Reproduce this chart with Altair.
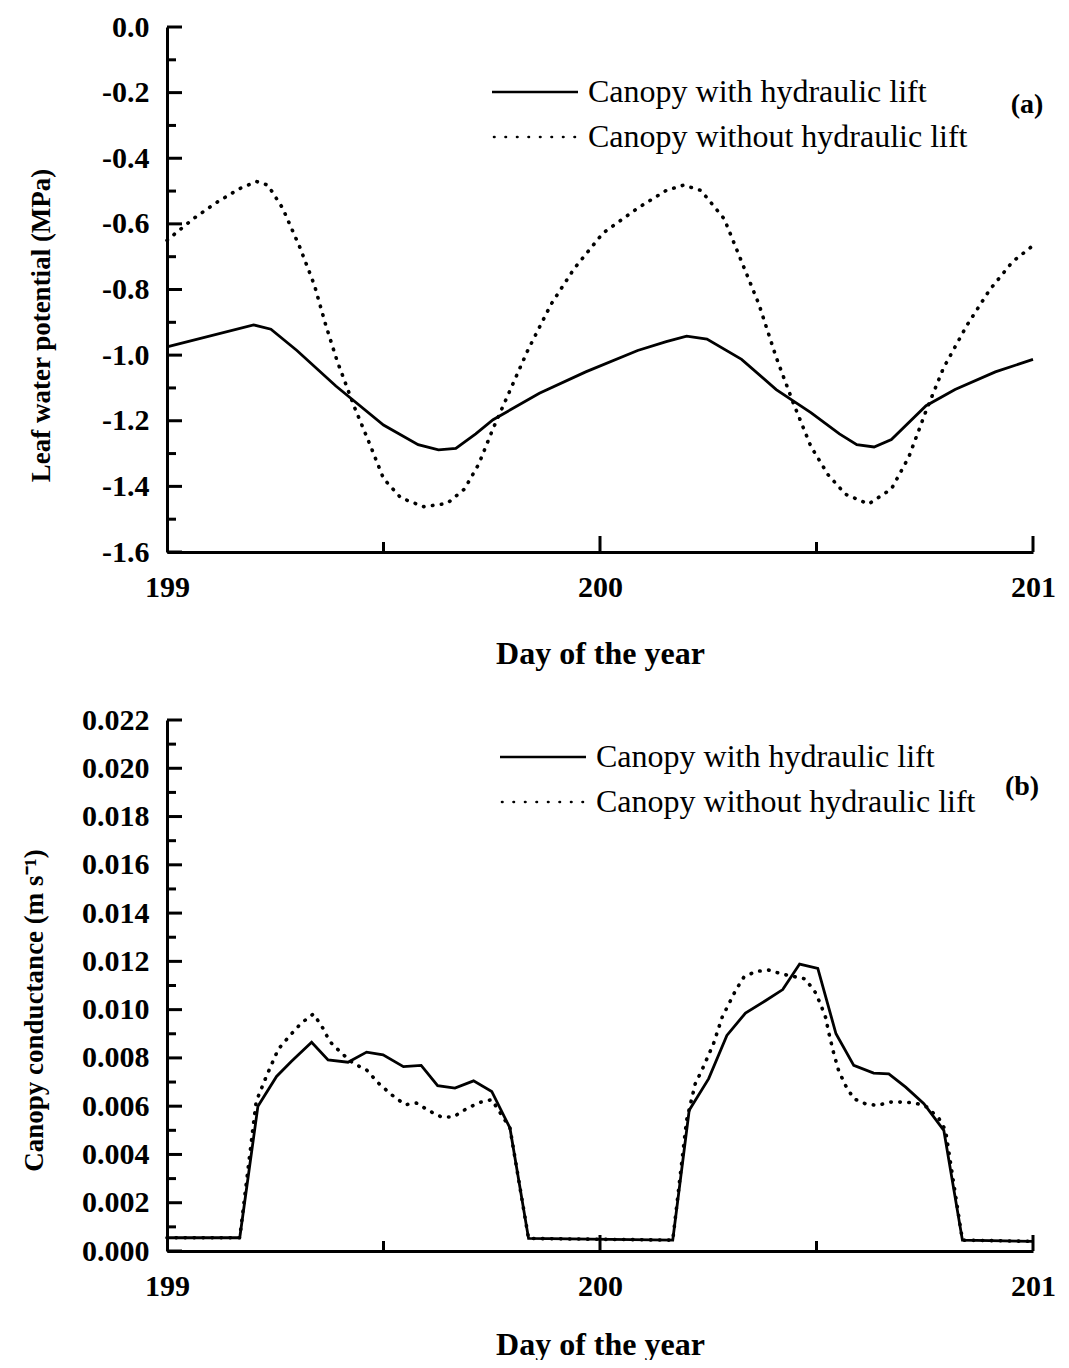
import altair as alt
import pandas as pd

FONT = "Liberation Serif"

series_names = ["Canopy with hydraulic lift", "Canopy without hydraulic lift"]

# ---- Panel (a): leaf water potential (MPa) ----
days_a_with = [199.0, 199.2, 199.24, 199.3, 199.39, 199.5, 199.58, 199.627, 199.667, 199.713,
               199.753, 199.86, 199.967, 200.087, 200.153, 200.2, 200.247, 200.327, 200.407,
               200.487, 200.553, 200.593, 200.633, 200.673, 200.753, 200.82, 200.913, 201.0]
lwp_with = [-0.975, -0.908, -0.921, -0.986, -1.094, -1.213, -1.273, -1.289, -1.284, -1.240,
            -1.197, -1.116, -1.051, -0.986, -0.959, -0.942, -0.951, -1.013, -1.105,
            -1.175, -1.240, -1.273, -1.280, -1.257, -1.154, -1.105, -1.051, -1.013]

days_a_without = [199.0, 199.06, 199.113, 199.167, 199.207, 199.233, 199.267, 199.307, 199.34,
                  199.367, 199.393, 199.433, 199.467, 199.5, 199.54, 199.593, 199.647, 199.687,
                  199.72, 199.753, 199.793, 199.833, 199.887, 199.94, 200.007, 200.087, 200.153,
                  200.193, 200.233, 200.287, 200.327, 200.367, 200.407, 200.447, 200.487, 200.527,
                  200.567, 200.62, 200.673, 200.713, 200.753, 200.793, 200.847, 200.9, 200.953, 201.0]
lwp_without = [-0.65, -0.585, -0.536, -0.493, -0.471, -0.482, -0.552, -0.672, -0.785,
               -0.910, -1.018, -1.159, -1.267, -1.376, -1.435, -1.462, -1.452, -1.408,
               -1.332, -1.224, -1.105, -0.986, -0.845, -0.737, -0.628, -0.552, -0.498,
               -0.482, -0.498, -0.585, -0.715, -0.845, -1.007, -1.148, -1.278, -1.365,
               -1.424, -1.454, -1.408, -1.311, -1.170, -1.040, -0.910, -0.801, -0.715, -0.666]

# ---- Panel (b): canopy conductance (m s-1) ----
days_b_with = [199.0, 199.168, 199.21, 199.253, 199.287, 199.334, 199.372, 199.418, 199.461,
               199.499, 199.546, 199.587, 199.625, 199.665, 199.708, 199.75, 199.792, 199.835,
               200.168, 200.206, 200.251, 200.293, 200.336, 200.382, 200.422, 200.461, 200.503,
               200.545, 200.586, 200.632, 200.667, 200.706, 200.748, 200.794, 200.837, 201.0]
gc_with = [0.00055, 0.00055, 0.0060, 0.00723, 0.00785, 0.00865, 0.00792, 0.00782, 0.00824,
           0.00813, 0.00764, 0.00769, 0.00685, 0.00675, 0.00705, 0.00661, 0.0051, 0.00052,
           0.00045, 0.00583, 0.00714, 0.00893, 0.00986, 0.01037, 0.01083, 0.01189, 0.01171,
           0.0090, 0.00769, 0.00737, 0.00734, 0.00679, 0.0061, 0.0050, 0.00045, 0.00040]

days_b_without = [199.0, 199.168, 199.206, 199.23, 199.257, 199.284, 199.31, 199.338, 199.357,
                  199.376, 199.403, 199.43, 199.461, 199.488, 199.519, 199.55, 199.576, 199.607,
                  199.634, 199.661, 199.692, 199.723, 199.75, 199.792, 199.835, 200.168, 200.2,
                  200.22, 200.235, 200.262, 200.282, 200.313, 200.332, 200.359, 200.39, 200.419,
                  200.474, 200.497, 200.509, 200.521, 200.528, 200.54, 200.551, 200.567, 200.586,
                  200.613, 200.64, 200.671, 200.702, 200.729, 200.756, 200.783, 200.798, 200.837, 201.0]
gc_without = [0.00055, 0.00055, 0.0062, 0.00726, 0.00836, 0.00893, 0.00944, 0.00982, 0.00933,
              0.00868, 0.0082, 0.00778, 0.0075, 0.00696, 0.00647, 0.00606, 0.00613, 0.00579,
              0.00555, 0.00555, 0.0059, 0.00616, 0.00627, 0.0051, 0.00052, 0.00045, 0.00541,
              0.00693, 0.00748, 0.00858, 0.00968, 0.01079, 0.01134, 0.01158, 0.01164, 0.01148,
              0.01127, 0.01072, 0.01024, 0.00968, 0.00907, 0.00817, 0.00748, 0.00686, 0.00631,
              0.0061, 0.00603, 0.00617, 0.00617, 0.00613, 0.00596, 0.00548, 0.0050, 0.00045, 0.00040]

# ---- ticks ----
x_major = [199, 200, 201]
x_minor = [199.5, 200.5]
ya_major = [-1.6, -1.4, -1.2, -1.0, -0.8, -0.6, -0.4, -0.2, 0.0]
ya_minor = [-1.5, -1.3, -1.1, -0.9, -0.7, -0.5, -0.3, -0.1]
yb_major = [0.000, 0.002, 0.004, 0.006, 0.008, 0.010, 0.012, 0.014, 0.016, 0.018, 0.020, 0.022]
yb_minor = [0.001, 0.003, 0.005, 0.007, 0.009, 0.011, 0.013, 0.015, 0.017, 0.019, 0.021]

W = 866


def panel(d_with, v_with, d_without, v_without, ydomain, ymajor, yminor, ylabel_expr,
          ytitle, H, title_x, title_y, x_title_pad, leg_x, leg_y1, leg_y2, tag, tag_x, tag_y):
    xscale = alt.Scale(domain=[199, 201], nice=False, zero=False)
    yscale = alt.Scale(domain=ydomain, nice=False, zero=False)
    xaxis = alt.Axis(values=x_major, labelExpr="format(datum.value, 'd')",
                     title="Day of the year", labelFlush=False,
                     ticks=False, tickSize=0, labelPadding=20, titlePadding=x_title_pad,
                     grid=False, labelOverlap=False, labelBound=False)
    yaxis = alt.Axis(values=ymajor, labelExpr=ylabel_expr, title=ytitle, ticks=False,
                     tickSize=0, labelPadding=18, grid=False, labelOverlap=False,
                     titleX=title_x, titleY=title_y, titleAngle=270,
                     titleBaseline="middle", titleAlign="center")
    X = alt.X("day:Q", scale=xscale, axis=xaxis)
    Y = alt.Y("value:Q", scale=yscale, axis=yaxis)

    df_w = pd.DataFrame({"day": d_with, "value": v_with})
    df_wo = pd.DataFrame({"day": d_without, "value": v_without})

    solid = alt.Chart(df_w).mark_line(color="black", strokeWidth=2.8).encode(x=X, y=Y)
    dotted = alt.Chart(df_wo).mark_line(
        color="black", strokeWidth=3.6, strokeDash=[0.5, 8.5], strokeCap="round"
    ).encode(x=X, y=Y)

    ymaj = alt.Chart(pd.DataFrame({"value": ymajor})).mark_rule(
        color="black", strokeWidth=3).encode(
        y=Y, x=alt.value(0), x2=alt.value(15))
    ymin = alt.Chart(pd.DataFrame({"value": yminor})).mark_rule(
        color="black", strokeWidth=3).encode(
        y=Y, x=alt.value(0), x2=alt.value(9))
    xmaj = alt.Chart(pd.DataFrame({"day": x_major[1:]})).mark_rule(
        color="black", strokeWidth=3).encode(
        x=X, y=alt.value(H), y2=alt.value(H - 16))
    xmin = alt.Chart(pd.DataFrame({"day": x_minor})).mark_rule(
        color="black", strokeWidth=3).encode(
        x=X, y=alt.value(H), y2=alt.value(H - 10))

    leg_solid_line = alt.Chart(pd.DataFrame({"label": [series_names[0]]})).mark_rule(
        color="black", strokeWidth=2.5).encode(
        x=alt.value(leg_x), x2=alt.value(leg_x + 86), y=alt.value(leg_y1))
    leg_dot_line = alt.Chart(pd.DataFrame({"label": [series_names[1]]})).mark_rule(
        color="black", strokeWidth=2.6, strokeDash=[0.5, 11], strokeCap="round").encode(
        x=alt.value(leg_x + 2), x2=alt.value(leg_x + 86), y=alt.value(leg_y2))
    leg_t1 = alt.Chart(pd.DataFrame({"label": [series_names[0]]})).mark_text(
        align="left", baseline="middle", font=FONT, fontSize=32, color="black").encode(
        x=alt.value(leg_x + 96), y=alt.value(leg_y1), text="label:N")
    leg_t2 = alt.Chart(pd.DataFrame({"label": [series_names[1]]})).mark_text(
        align="left", baseline="middle", font=FONT, fontSize=32, color="black").encode(
        x=alt.value(leg_x + 96), y=alt.value(leg_y2), text="label:N")
    tag_t = alt.Chart(pd.DataFrame({"label": [tag]})).mark_text(
        align="center", baseline="middle", font=FONT, fontSize=28, fontWeight="bold",
        color="black").encode(x=alt.value(tag_x), y=alt.value(tag_y), text="label:N")

    return alt.layer(solid, dotted, ymaj, ymin, xmaj, xmin, leg_solid_line, leg_dot_line,
                     leg_t1, leg_t2, tag_t).properties(width=W, height=H)


top = panel(days_a_with, lwp_with, days_a_without, lwp_without, [-1.6, 0.0], ya_major, ya_minor,
            "replace(format(datum.value, '.1f'), '\u2212', '-')",
            "Leaf water potential (MPa)", 525, -126, 298, 36, 325, 65, 110, "(a)", 860, 78)
bottom = panel(days_b_with, gc_with, days_b_without, gc_without, [0.0, 0.022], yb_major, yb_minor,
               "format(datum.value, '.3f')",
               "Canopy conductance (m s\u207b\u00b9)", 531, -133, 290, 28, 333, 37, 82, "(b)", 855, 67)

chart = alt.vconcat(top, bottom, spacing=36).properties(
    padding={"left": 20, "top": 12, "right": 0, "bottom": 0}
).configure_view(stroke=None).configure_axis(
    domainColor="black", domainWidth=3,
    labelFont=FONT, labelFontSize=30, labelFontWeight="bold", labelColor="black",
    titleFont=FONT, titleFontSize=32, titleFontWeight="bold", titleColor="black",
).configure_axisY(titleFontSize=27)

chart.save("out.html", embed_options={"renderer": "svg", "actions": False})
